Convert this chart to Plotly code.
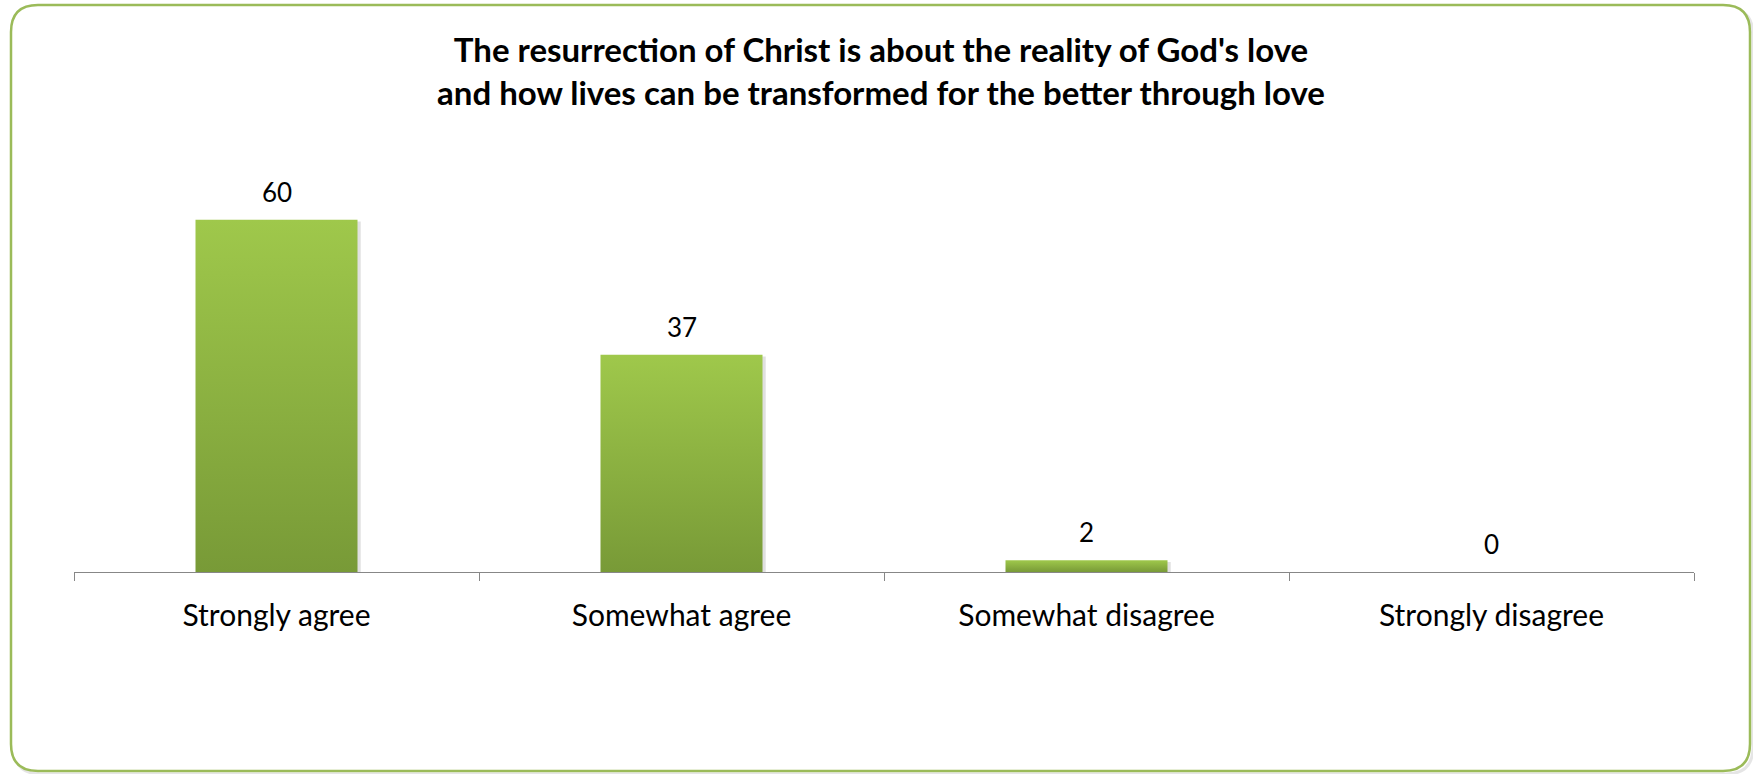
import plotly.graph_objects as go

categories = ["Strongly agree", "Somewhat agree", "Somewhat disagree", "Strongly disagree"]
values = [60, 37, 2, 0]
title_lines = ["The resurrection of Christ is about the reality of God's love",
               "and how lives can be transformed for the better through love"]

W, H = 1753, 774
ML, MR, MT, MB = 74, 59, 161, 202
PW, PH = W - ML - MR, H - MT - MB
BAR_W = 0.40
GREEN_SCALE = [[0, "#789A37"], [1, "#9FC84B"]]
FONT = "Lato"

fig = go.Figure()

# bars with vertical gradient, built from the data values
for i, v in enumerate(values):
    if v <= 0:
        continue
    x0, x1 = i - BAR_W / 2, i + BAR_W / 2
    # shadow
    fig.add_trace(go.Scatter(
        x=[x0 + 0.008, x1 + 0.008, x1 + 0.008, x0 + 0.008, x0 + 0.008],
        y=[-0.45, -0.45, v - 0.3, v - 0.3, -0.45],
        fill="toself", fillcolor="rgba(0,0,0,0.12)", mode="lines",
        line=dict(width=0), hoverinfo="skip", showlegend=False))
    fig.add_trace(go.Scatter(
        x=[x0, x1, x1, x0, x0], y=[0, 0, v, v, 0],
        fill="toself", mode="lines", line=dict(width=0),
        fillgradient=dict(type="vertical", colorscale=GREEN_SCALE),
        hoverinfo="skip", showlegend=False))

# value labels
annotations = [dict(x=i, y=v, xref="x", yref="y", text=str(v), showarrow=False,
                    yanchor="middle", yshift=28,
                    font=dict(family=FONT, size=26, color="#000000"))
               for i, v in enumerate(values)]

# rounded border (paper coords)
def px_x(p):
    return (p - ML) / PW

def px_y(p):
    return (H - MB - p) / PH

def rounded(l, t, r, b, rad):
    xl, xr = px_x(l), px_x(r)
    yt, yb = px_y(t), px_y(b)
    rx, ry = rad / PW, rad / PH
    return (f"M {xl+rx},{yt} L {xr-rx},{yt} Q {xr},{yt} {xr},{yt-ry} "
            f"L {xr},{yb+ry} Q {xr},{yb} {xr-rx},{yb} "
            f"L {xl+rx},{yb} Q {xl},{yb} {xl},{yb+ry} "
            f"L {xl},{yt-ry} Q {xl},{yt} {xl+rx},{yt} Z")

shapes = [
    dict(type="path", xref="paper", yref="paper", path=rounded(14, 8, 1753, 774, 27),
         line=dict(color="rgba(0,0,0,0.10)", width=3), layer="below"),
    dict(type="path", xref="paper", yref="paper", path=rounded(11, 5, 1750, 771, 27),
         line=dict(color="#9BBB59", width=2.5), fillcolor="#FFFFFF", layer="below"),
]

fig.update_layout(
    width=W, height=H,
    margin=dict(l=ML, r=MR, t=MT, b=MB, pad=0),
    paper_bgcolor="#FFFFFF", plot_bgcolor="rgba(0,0,0,0)",
    shapes=shapes, annotations=annotations,
    title=dict(text="<b>" + "<br>".join(title_lines) + "</b>",
               x=881 / W, xanchor="center", y=1 - 62 / H, yanchor="middle",
               font=dict(family=FONT, size=33, color="#000000")),
    xaxis=dict(range=[-0.5, len(categories) - 0.5], tickmode="array",
               tickvals=list(range(len(categories))), ticktext=categories,
               ticks="", showgrid=False, zeroline=False,
               showline=True, linecolor="#878787", linewidth=1.2,
               tickfont=dict(family=FONT, size=30, color="#000000"),
               ticklabelstandoff=17,
               minor=dict(tickmode="array",
                          tickvals=[i - 0.5 for i in range(len(categories) + 1)],
                          ticks="outside", ticklen=8, tickcolor="#878787", tickwidth=1.2,
                          showgrid=False),
               fixedrange=True),
    yaxis=dict(range=[0, 70], visible=False, showgrid=False, zeroline=False, fixedrange=True),
    showlegend=False,
)

fig.write_html("out.html", config={"displayModeBar": False},
               post_script="document.body.style.margin='0';")
